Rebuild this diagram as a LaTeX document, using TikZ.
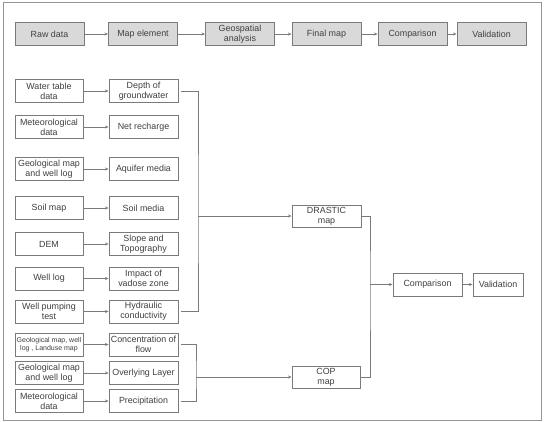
\documentclass[tikz,border=0pt]{standalone}
\usepackage{fontspec}
\setmainfont{Liberation Sans}
\usetikzlibrary{arrows.meta}
\definecolor{txt}{HTML}{404040}
\definecolor{edge}{HTML}{7A7A7A}
\definecolor{topfill}{HTML}{D9D9D9}
\begin{document}
\begin{tikzpicture}[x=1pt,y=-1pt,
  base/.style={draw=edge,line width=0.9pt,text=txt,align=center,inner sep=1pt,
    font=\fontsize{8.9}{10}\selectfont,minimum height=23pt},
  topbox/.style={base,fill=topfill,minimum width=69pt},
  lbox/.style={base,fill=white,minimum width=68pt},
  rbox/.style={base,fill=white,minimum width=69pt},
  link/.style={draw=edge,line width=0.9pt},
  arr/.style={link,-{Stealth[length=3.5pt,width=3pt]}},
]
\useasboundingbox (0,0) rectangle (544,422);
\draw[edge!80,line width=0.8pt] (3,2) rectangle (541,420);

% top row
\node[topbox] (t1) at (49.5,34) {Raw data};
\node[topbox] (t2) at (143,34) {Map element};
\node[topbox] (t3) at (240,34) {Geospatial\\analysis};
\node[topbox] (t4) at (326.5,34) {Final map};
\node[topbox] (t5) at (412.5,34) {Comparison};
\node[topbox] (t6) at (491.5,34) {Validation};
\draw[arr] (t1) -- (t2);
\draw[arr] (t2) -- (t3);
\draw[arr] (t3) -- (t4);
\draw[arr] (t4) -- (t5);
\draw[arr] (t5) -- (t6);

% left / right columns
\node[lbox] (l1) at (49,91) {Water table\\data};
\node[rbox] (r1) at (143.5,91) {Depth of\\groundwater};
\node[lbox] (l2) at (49,127) {Meteorological\\data};
\node[rbox] (r2) at (143.5,127) {Net recharge};
\node[lbox] (l3) at (49,169) {Geological map\\and well log};
\node[rbox] (r3) at (143.5,169) {Aquifer media};
\node[lbox] (l4) at (49,208) {Soil map};
\node[rbox] (r4) at (143.5,208) {Soil media};
\node[lbox] (l5) at (49,244) {DEM};
\node[rbox] (r5) at (143.5,244) {Slope and\\Topography};
\node[lbox] (l6) at (49,278.5) {Well log};
\node[rbox] (r6) at (143.5,278.5) {Impact of\\vadose zone};
\node[lbox] (l7) at (49,311.5) {Well pumping\\test};
\node[rbox] (r7) at (143.5,311.5) {Hydraulic\\conductivity};
\node[lbox,inner sep=0pt,font=\fontsize{7}{8.6}\selectfont] (l8) at (49,344.5) {Geological map, well\\log , Landuse map};
\node[rbox] (r8) at (143.5,344.5) {Concentration of\\flow};
\node[lbox] (l9) at (49,373) {Geological map\\and well log};
\node[rbox] (r9) at (143.5,373) {Overlying Layer};
\node[lbox] (l10) at (49,401) {Meteorological\\data};
\node[rbox] (r10) at (143.5,401) {Precipitation};
\foreach \i in {1,...,10} {\draw[arr] (l\i) -- (r\i);}

% maps
\node[rbox,minimum height=22pt] (drastic) at (326.5,216) {DRASTIC\\map};
\node[lbox,minimum height=22pt] (cop) at (326,377) {COP\\map};
\node[rbox] (cmp) at (427.5,284.5) {Comparison};
\node[base,fill=white,minimum width=50pt] (val) at (498,284.5) {Validation};

\coordinate (j1) at (198,216);
\coordinate (j2) at (196,377);
\coordinate (j3) at (370,284.5);
\draw[link,shorten <=3pt] (r1.east) -| (j1) |- ([xshift=3pt]r7.east);
\draw[arr] (j1) -- (drastic.west);
\draw[link,shorten <=3pt] (r8.east) -| (j2) |- ([xshift=3pt]r10.east);
\draw[arr] (j2) -- (cop.west);
\draw[link] (drastic.east) -| (j3) |- (cop.east);
\draw[arr] (j3) -- (cmp.west);
\draw[arr] (cmp) -- (val);
\end{tikzpicture}
\end{document}
